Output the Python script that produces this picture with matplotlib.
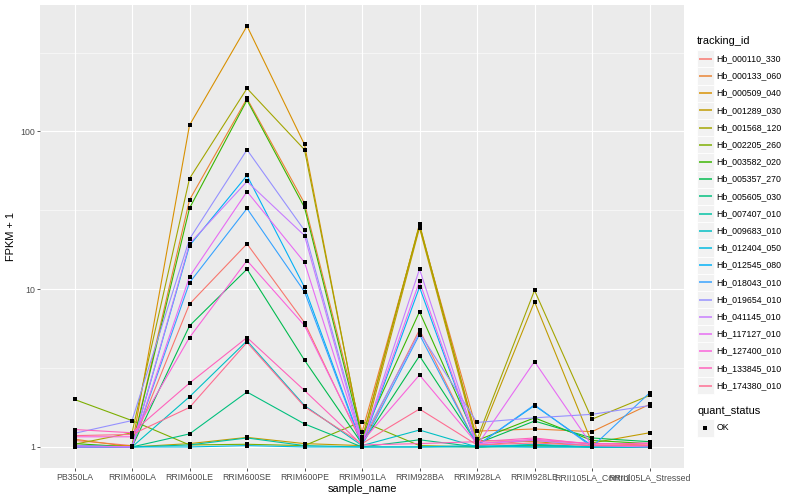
import matplotlib
matplotlib.use("Agg")
import matplotlib.pyplot as plt
import numpy as np
from matplotlib.patches import Rectangle
from matplotlib.lines import Line2D
from matplotlib.ticker import FixedLocator, NullFormatter

plt.rcParams['font.family'] = ['Liberation Sans', 'DejaVu Sans']

samples = ["PB350LA", "RRIM600LA", "RRIM600LE", "RRIM600SE", "RRIM600PE",
           "RRIM901LA", "RRIM928BA", "RRIM928LA", "RRIM928LE",
           "RRII105LA_Control", "RRII105LA_Stressed"]

tracking_ids = ["Hb_000110_330", "Hb_000133_060", "Hb_000509_040", "Hb_001289_030",
                "Hb_001568_120", "Hb_002205_260", "Hb_003582_020", "Hb_005357_270",
                "Hb_005605_030", "Hb_007407_010", "Hb_009683_010", "Hb_012404_050",
                "Hb_012545_080", "Hb_018043_010", "Hb_019654_010", "Hb_041145_010",
                "Hb_117127_010", "Hb_127400_010", "Hb_133845_010", "Hb_174380_010"]

colors = ["#F8766D", "#EA8331", "#D89000", "#C09B00", "#A3A500", "#7CAE00",
          "#39B600", "#00BB4E", "#00BF7D", "#00C1A3", "#00BFC4", "#00BAE0",
          "#00B0F6", "#35A2FF", "#9590FF", "#C77CFF", "#E76BF3", "#FA62DB",
          "#FF62BC", "#FF6C91"]

# FPKM + 1 values per tracking id, in sample order
Hb_000110_330 = [1.10, 1.02, 8.05, 19.4, 6.15, 1.05, 5.53, 1.02, 1.10, 1.05, 1.03]
Hb_000133_060 = [1.12, 1.00, 36.8, 162.0, 35.1, 1.24, 25.0, 1.26, 1.30, 1.25, 1.86]
Hb_000509_040 = [1.00, 1.02, 109.6, 466.0, 82.7, 1.10, 25.9, 1.10, 1.08, 1.02, 1.02]
Hb_001289_030 = [1.02, 1.00, 1.05, 1.15, 1.05, 1.02, 24.5, 1.05, 8.33, 1.06, 1.23]
Hb_001568_120 = [1.04, 1.23, 50.3, 187.6, 76.6, 1.12, 25.5, 1.12, 9.83, 1.50, 2.12]
Hb_002205_260 = [2.00, 1.47, 1.03, 1.04, 1.02, 1.45, 1.02, 1.00, 1.02, 1.00, 1.00]
Hb_003582_020 = [1.05, 1.00, 32.6, 158.0, 33.0, 1.15, 7.2, 1.10, 1.53, 1.10, 1.05]
Hb_005357_270 = [1.02, 1.00, 5.86, 13.4, 3.55, 1.05, 3.78, 1.05, 1.46, 1.14, 1.08]
Hb_005605_030 = [1.00, 1.00, 1.21, 2.23, 1.40, 1.00, 1.11, 1.00, 1.03, 1.00, 1.00]
Hb_007407_010 = [1.00, 1.00, 1.03, 1.14, 1.02, 1.00, 1.00, 1.00, 1.00, 1.00, 1.00]
Hb_009683_010 = [1.00, 1.00, 2.08, 4.71, 1.83, 1.02, 1.28, 1.00, 1.04, 1.00, 1.00]
Hb_012404_050 = [1.00, 1.00, 1.00, 1.02, 1.00, 1.00, 1.00, 1.02, 1.00, 1.00, 1.00]
Hb_012545_080 = [1.02, 1.00, 18.9, 52.6, 10.3, 1.03, 10.3, 1.02, 1.83, 1.02, 1.02]
Hb_018043_010 = [1.00, 1.00, 11.0, 32.5, 9.64, 1.02, 5.16, 1.02, 1.85, 1.00, 2.20]
Hb_019654_010 = [1.22, 1.47, 20.8, 76.6, 23.6, 1.10, 5.30, 1.43, 1.53, 1.61, 1.83]
Hb_041145_010 = [1.02, 1.00, 19.4, 48.2, 21.9, 1.05, 13.4, 1.05, 1.10, 1.02, 1.00]
Hb_117127_010 = [1.00, 1.00, 12.0, 41.6, 14.8, 1.05, 11.2, 1.02, 3.48, 1.02, 1.02]
Hb_127400_010 = [1.16, 1.16, 4.94, 15.2, 5.89, 1.08, 2.86, 1.05, 1.12, 1.05, 1.05]
Hb_133845_010 = [1.29, 1.23, 2.54, 4.94, 2.28, 1.03, 1.05, 1.08, 1.14, 1.04, 1.06]
Hb_174380_010 = [1.18, 1.20, 1.78, 4.60, 1.80, 1.05, 1.74, 1.03, 1.06, 1.02, 1.02]

series = [Hb_000110_330, Hb_000133_060, Hb_000509_040, Hb_001289_030, Hb_001568_120,
          Hb_002205_260, Hb_003582_020, Hb_005357_270, Hb_005605_030, Hb_007407_010,
          Hb_009683_010, Hb_012404_050, Hb_012545_080, Hb_018043_010, Hb_019654_010,
          Hb_041145_010, Hb_117127_010, Hb_127400_010, Hb_133845_010, Hb_174380_010]

y_ticks = [1, 10, 100]
y_tick_labels = ["1", "10", "100"]
quant_levels = ["OK"]

W, H = 800, 500
DPI = 72
fig = plt.figure(figsize=(W / DPI, H / DPI), dpi=DPI)
fig.patch.set_facecolor("white")

def fx(px):
    return px / W

def fy(py):
    return 1 - py / H

left, right, top, bottom = 40, 684, 5, 468
ax = fig.add_axes([fx(left), fy(bottom), fx(right) - fx(left), fy(top) - fy(bottom)])
ax.set_facecolor("#EBEBEB")
for s in ax.spines.values():
    s.set_visible(False)

x = np.arange(len(samples))
for vals, c in zip(series, colors):
    ax.plot(x, vals, color=c, lw=1.1, solid_capstyle="butt", zorder=3)
for vals in series:
    ax.plot(x, vals, ls="none", marker="s", ms=3.6, color="black", mew=0, zorder=4)

ax.set_yscale("log")
allv = np.concatenate([np.asarray(v) for v in series])
lo, hi = np.log10(allv.min()), np.log10(allv.max())
pad = 0.05 * (hi - lo)
ax.set_ylim(10 ** (lo - pad), 10 ** (hi + pad))
ax.set_xlim(-0.6, len(samples) - 1 + 0.6)

ax.yaxis.set_major_locator(FixedLocator(y_ticks))
ax.set_yticklabels(y_tick_labels)
ax.yaxis.set_minor_locator(FixedLocator([10 ** 0.5, 10 ** 1.5, 10 ** 2.5]))
ax.yaxis.set_minor_formatter(NullFormatter())
ax.set_xticks(x)
ax.set_xticklabels(samples)

ax.grid(which="major", color="white", lw=1.1, zorder=0)
ax.grid(which="minor", axis="y", color="white", lw=0.55, zorder=0)
ax.set_axisbelow(True)
ax.tick_params(which="major", length=2.75, width=0.8, color="#333333",
               labelsize=8.8, labelcolor="#4D4D4D", pad=2.2)
ax.tick_params(which="minor", length=0)

ax.set_xlabel("sample_name", fontsize=11, color="black", labelpad=2.5)
ax.set_ylabel("FPKM + 1", fontsize=11, color="black", labelpad=4)

# legend: tracking_id
fig.text(fx(697), fy(40.5), "tracking_id", fontsize=11, ha="left", va="center")
key_w, key_h = 16.5, 17.2
y0 = 58.7
for i, (tid, c) in enumerate(zip(tracking_ids, colors)):
    cy = y0 + i * key_h
    fig.add_artist(Rectangle((fx(697), fy(cy + key_h / 2)), key_w / W, key_h / H,
                             transform=fig.transFigure, facecolor="#F2F2F2",
                             edgecolor="white", lw=0.8, zorder=1))
    fig.add_artist(Line2D([fx(698.5), fx(712)], [fy(cy), fy(cy)],
                          transform=fig.transFigure, color=c, lw=1.5,
                          solid_capstyle="butt", zorder=5))
    fig.text(fx(716.5), fy(cy), tid, fontsize=8.8, ha="left", va="center")

# legend: quant_status
fig.text(fx(697), fy(411.5), "quant_status", fontsize=11, ha="left", va="center")
for j, q in enumerate(quant_levels):
    cy = 428 + j * key_h
    fig.add_artist(Rectangle((fx(697), fy(cy + key_h / 2)), key_w / W, key_h / H,
                             transform=fig.transFigure, facecolor="#F2F2F2",
                             edgecolor="white", lw=0.8, zorder=1))
    fig.add_artist(Line2D([fx(705.2)], [fy(cy)], transform=fig.transFigure,
                          ls="none", marker="s", ms=3.6, color="black", mew=0,
                          zorder=5))
    fig.text(fx(716.5), fy(cy), q, fontsize=8.8, ha="left", va="center")

fig.savefig("out.png", dpi=DPI)
